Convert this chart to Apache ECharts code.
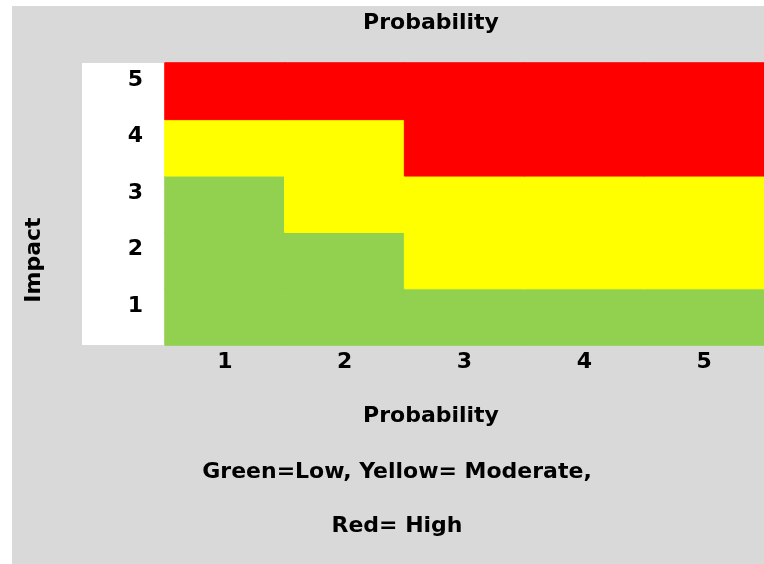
<!DOCTYPE html>
<html>
<head>
<meta charset="utf-8">
<script src="https://cdn.jsdelivr.net/npm/echarts@6/dist/echarts.min.js"></script>
<style>
html,body{margin:0;padding:0;background:#ffffff;}
#bg{position:absolute;left:12px;top:6px;width:752px;height:558px;background:#d9d9d9;}
#chart{position:absolute;left:0;top:0;width:764px;height:564px;}
</style>
</head>
<body>
<div id="bg"></div>
<div id="chart"></div>
<script>
// Data
var probabilityLabels = ['1', '2', '3', '4', '5'];
var impactLabels = ['1', '2', '3', '4', '5'];
// risk level per impact row (1=Low, 2=Moderate, 3=High), columns = probability 1..5
var impact1 = [1, 1, 1, 1, 1];
var impact2 = [1, 1, 2, 2, 2];
var impact3 = [1, 2, 2, 2, 2];
var impact4 = [2, 2, 3, 3, 3];
var impact5 = [3, 3, 3, 3, 3];
var levelColors = ['#92d050', '#ffff00', '#ff0000'];
var titleText = 'Probability';
var xAxisTitle = 'Probability';
var yAxisTitle = 'Impact';
var noteLine1 = 'Green=Low, Yellow= Moderate,';
var noteLine2 = 'Red= High';

var rows = [impact1, impact2, impact3, impact4, impact5];
var data = [];
rows.forEach(function (row, yi) {
  row.forEach(function (v, xi) {
    var c = levelColors[v - 1];
    data.push({ value: [xi, yi, v], itemStyle: { color: c, borderColor: c, borderWidth: 1 } });
  });
});

var FONT = '"DejaVu Sans"';
var FS = 22;
function ts() { return { fontFamily: FONT, fontWeight: 'bold', fontSize: FS, color: '#000' }; }
var chart = echarts.init(document.getElementById('chart'));
chart.setOption({
  backgroundColor: 'transparent',
  animation: false,
  textStyle: { fontFamily: FONT },
  title: [
    { text: titleText, left: 426, top: 7, textAlign: 'center', textStyle: ts() },
    { text: xAxisTitle, left: 426, top: 400, textAlign: 'center', textStyle: ts() },
    { text: noteLine1, left: 392, top: 456, textAlign: 'center', textStyle: ts() },
    { text: noteLine2, left: 392, top: 510, textAlign: 'center', textStyle: ts() }
  ],
  graphic: [
    { type: 'rect', z: -10, shape: { x: 82, y: 63, width: 83, height: 282 }, style: { fill: '#ffffff' } },
    { type: 'text', x: 34, y: 260, rotation: Math.PI / 2,
      style: { text: yAxisTitle, fontFamily: FONT, fontWeight: 'bold', fontSize: FS, fill: '#000',
               align: 'center', verticalAlign: 'middle' } }
  ],
  grid: { left: 165, top: 63, width: 600, height: 282, containLabel: false },
  xAxis: {
    type: 'category', data: probabilityLabels,
    axisLine: { show: false }, axisTick: { show: false }, splitLine: { show: false },
    axisLabel: { color: '#000', fontFamily: FONT, fontWeight: 'bold', fontSize: FS, margin: 6 }
  },
  yAxis: {
    type: 'category', data: impactLabels,
    axisLine: { show: false }, axisTick: { show: false }, splitLine: { show: false },
    axisLabel: { color: '#000', fontFamily: FONT, fontWeight: 'bold', fontSize: FS, margin: 22, verticalAlign: 'bottom' }
  },
  series: [{
    type: 'heatmap', data: data,
    label: { show: false },
    emphasis: { disabled: true }
  }]
});
</script>
</body>
</html>
